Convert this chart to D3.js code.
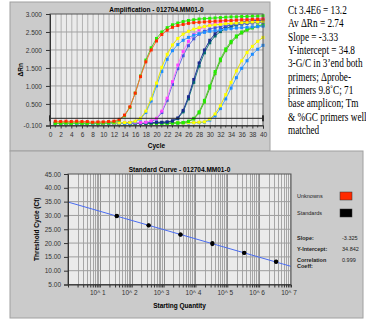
<!DOCTYPE html>
<html>
<head>
<meta charset="utf-8">
<script src="https://cdn.jsdelivr.net/npm/d3@7"></script>
<style>
body { margin: 0; background: #fff; }
svg { display: block; font-family: "Liberation Sans", Arial, sans-serif; }
</style>
</head>
<body>
<svg id="chart" width="366" height="325"></svg>
<script>
// amplification data (delta Rn per cycle)
const cycles = d3.range(1, 41)
const ampYTicks = [3.0, 2.5, 2.0, 1.5, 1.0, 0.5, -0.1]
const ampXTicks = d3.range(0, 41, 2)
const threshold = 0.1

const red1 = [0.02, 0.01, 0.02, 0.01, 0.02, 0.01, 0.01, -0.01, 0.00, 0.00, 0.01, 0.02,
	0.07, 0.19, 0.42, 0.80, 1.26, 1.67, 2.00, 2.25,
	2.43, 2.55, 2.63, 2.68, 2.71, 2.74, 2.76, 2.77, 2.78, 2.79,
	2.80, 2.81, 2.82, 2.82, 2.83, 2.84, 2.84, 2.85, 2.85, 2.86]
const green1 = [-0.04, -0.04, -0.03, -0.04, -0.03, -0.04, -0.04, -0.03, -0.04, -0.03, -0.03, -0.01,
	0.05, 0.17, 0.40, 0.80, 1.28, 1.72, 2.06, 2.32,
	2.50, 2.62, 2.70, 2.75, 2.79, 2.82, 2.84, 2.86, 2.87, 2.88,
	2.89, 2.90, 2.91, 2.92, 2.92, 2.93, 2.93, 2.94, 2.94, 2.95]
const yellow2 = [-0.03, -0.02, -0.03, -0.03, -0.02, -0.03, -0.03, -0.02, -0.03, -0.03, -0.02, -0.03, -0.03, -0.02, -0.02,
	0.02, 0.10, 0.30, 0.64, 1.08,
	1.52, 1.88, 2.14, 2.32, 2.44, 2.52, 2.58, 2.62, 2.65, 2.68,
	2.70, 2.71, 2.73, 2.74, 2.75, 2.76, 2.77, 2.78, 2.78, 2.79]
const blue2 = [-0.05, -0.04, -0.05, -0.04, -0.05, -0.05, -0.04, -0.05, -0.04, -0.05, -0.04, -0.05, -0.04, -0.04, -0.04,
	0.00, 0.08, 0.26, 0.58, 1.00,
	1.40, 1.74, 1.98, 2.15, 2.27, 2.35, 2.41, 2.45, 2.49, 2.52,
	2.54, 2.56, 2.58, 2.59, 2.61, 2.62, 2.63, 2.64, 2.65, 2.66]
const magenta3 = [-0.02, -0.03, -0.02, -0.03, -0.02, -0.02, -0.03, -0.02, -0.03, -0.02, -0.02, -0.03, -0.02, -0.02, -0.03, -0.02, -0.02, -0.01,
	0.03, 0.10,
	0.30, 0.66, 1.12, 1.58, 1.96, 2.24, 2.43, 2.56, 2.64, 2.70,
	2.74, 2.77, 2.79, 2.81, 2.83, 2.84, 2.85, 2.86, 2.87, 2.88]
const purple3 = [-0.04, -0.03, -0.04, -0.03, -0.04, -0.04, -0.03, -0.04, -0.03, -0.04, -0.03, -0.04, -0.03, -0.03, -0.04, -0.03, -0.03, -0.02,
	0.01, 0.08,
	0.26, 0.60, 1.04, 1.48, 1.84, 2.12, 2.31, 2.44, 2.52, 2.58,
	2.62, 2.65, 2.68, 2.70, 2.72, 2.73, 2.74, 2.75, 2.76, 2.77]
const navy4 = [-0.03, -0.02, -0.03, -0.02, -0.03, -0.03, -0.02, -0.03, -0.02, -0.03, -0.02, -0.03, -0.02, -0.03, -0.02, -0.02, -0.03, -0.02, -0.02, -0.01, -0.01, 0.00,
	0.03, 0.11, 0.32, 0.70, 1.18, 1.64, 2.00, 2.27,
	2.45, 2.57, 2.65, 2.70, 2.74, 2.77, 2.79, 2.81, 2.82, 2.83]
const teal4 = [-0.04, -0.04, -0.03, -0.04, -0.04, -0.03, -0.04, -0.04, -0.03, -0.04, -0.04, -0.03, -0.04, -0.03, -0.04, -0.03, -0.03, -0.04, -0.03, -0.02, -0.02, -0.01,
	0.02, 0.09, 0.28, 0.64, 1.10, 1.55, 1.92, 2.20,
	2.39, 2.51, 2.59, 2.65, 2.69, 2.72, 2.74, 2.76, 2.77, 2.78]
const green5 = [-0.05, -0.04, -0.05, -0.05, -0.04, -0.05, -0.05, -0.04, -0.05, -0.05, -0.04, -0.05, -0.05, -0.04, -0.05, -0.05, -0.04, -0.05, -0.04, -0.05, -0.04, -0.04, -0.03, -0.03, -0.02,
	0.02, 0.10, 0.28, 0.60, 1.00,
	1.40, 1.75, 2.03, 2.24, 2.39, 2.50, 2.58, 2.63, 2.67, 2.70]
const lime5 = [-0.04, -0.05, -0.04, -0.04, -0.05, -0.04, -0.04, -0.05, -0.04, -0.04, -0.05, -0.04, -0.04, -0.05, -0.04, -0.04, -0.05, -0.04, -0.04, -0.04, -0.03, -0.04, -0.03, -0.03, -0.02,
	0.01, 0.08, 0.25, 0.55, 0.94,
	1.34, 1.70, 1.98, 2.20, 2.36, 2.47, 2.55, 2.61, 2.65, 2.68]
const yellow6 = [-0.03, -0.03, -0.02, -0.03, -0.03, -0.02, -0.03, -0.03, -0.02, -0.03, -0.03, -0.02, -0.03, -0.03, -0.02, -0.03, -0.03, -0.02, -0.03, -0.03, -0.02, -0.03, -0.03, -0.02, -0.03, -0.02, -0.02, -0.01,
	0.00, 0.08,
	0.22, 0.45, 0.76, 1.10, 1.42, 1.70, 1.93, 2.10, 2.24, 2.35]
const blue6 = [-0.04, -0.03, -0.04, -0.04, -0.03, -0.04, -0.04, -0.03, -0.04, -0.04, -0.03, -0.04, -0.04, -0.03, -0.04, -0.04, -0.03, -0.04, -0.04, -0.03, -0.04, -0.03, -0.04, -0.03, -0.03, -0.03, -0.02, -0.02, -0.01,
	0.05,
	0.17, 0.37, 0.64, 0.94, 1.23, 1.49, 1.70, 1.88, 2.02, 2.13]

// standard curve data
const quantities = [34, 340, 3400, 34000, 340000, 3400000]
const ctRep1 = [29.75, 26.35, 23.05, 19.65, 16.40, 13.20]
const ctRep2 = [29.85, 26.45, 23.10, 20.00, 16.50, 13.25]
const stdYTicks = [45, 40, 35, 30, 25, 20, 15, 10, 5]
const stdXTicks = [10, 100, 1000, 10000, 100000, 1000000, 10000000]
const slope = -3.325
const intercept = 34.842
const corr = 0.999

const notes = ['Ct 3.4E6 = 13.2', 'Av \u0394Rn = 2.74', 'Slope = -3.33', 'Y-intercept = 34.8',
	'3-G/C in 3\u2019end both', 'primers; \u0394probe-', 'primers 9.8\u02daC; 71',
	'base amplicon; Tm', '& %GC primers well', 'matched']

const ampSeries = [
	{ fill: '#1e8cff', line: '#4aa6ff', values: blue6 },
	{ fill: '#ffff00', line: '#e6e600', values: yellow6 },
	{ fill: '#33dd00', line: '#44aa22', values: lime5 },
	{ fill: '#22ee00', line: '#55cc33', values: green5 },
	{ fill: '#006a6a', line: '#1a7a7a', values: teal4 },
	{ fill: '#1a2a8c', line: '#26349a', values: navy4 },
	{ fill: '#4455dd', line: '#6670e0', values: purple3 },
	{ fill: '#ff44ff', line: '#ff77ff', values: magenta3 },
	{ fill: '#1e8cff', line: '#4aa6ff', values: blue2 },
	{ fill: '#ffff00', line: '#e6e600', values: yellow2 },
	{ fill: '#22ee00', line: '#55cc33', values: green1 },
	{ fill: '#ff2a00', line: '#ff6a33', values: red1 }
]

const svg = d3.select('#chart')
const panelFill = '#cbcbcb'
const plotFill = '#ebebeb'
const gridColor = '#b2b2b2'

// ---------- Amplification panel ----------
svg.append('rect')
	.attr('x', 10).attr('y', 2).attr('width', 260).attr('height', 149)
	.attr('fill', panelFill).attr('stroke', '#a0a0a0')

const xAmp = d3.scaleLinear().domain([0, 40]).range([50, 263])
const yAmp = d3.scaleLinear().domain([-0.1, 3.0]).range([125.5, 14])

const amp = svg.append('g')
amp.append('rect')
	.attr('x', xAmp(0)).attr('y', yAmp(3)).attr('width', xAmp(40) - xAmp(0)).attr('height', yAmp(-0.1) - yAmp(3))
	.attr('fill', plotFill)

// grid
amp.append('g').selectAll('line')
	.data(d3.range(1, 40))
	.enter().append('line')
	.attr('x1', d => xAmp(d) + 0.5).attr('x2', d => xAmp(d) + 0.5)
	.attr('y1', yAmp(3)).attr('y2', yAmp(-0.1))
	.attr('stroke', gridColor).attr('stroke-width', 1)
amp.append('g').selectAll('line')
	.data([0.5, 1.0, 1.5, 2.0, 2.5])
	.enter().append('line')
	.attr('x1', xAmp(0)).attr('x2', xAmp(40))
	.attr('y1', d => yAmp(d)).attr('y2', d => yAmp(d))
	.attr('stroke', '#a2a2a2').attr('stroke-width', 1)

// curves
const ampLine = d3.line()
	.x((d, i) => xAmp(cycles[i]))
	.y(d => yAmp(d))

const curves = amp.append('g').selectAll('g')
	.data(ampSeries)
	.enter().append('g')
curves.append('path')
	.attr('d', d => ampLine(d.values))
	.attr('fill', 'none').attr('stroke', d => d.line).attr('stroke-width', 1)
curves.selectAll('rect')
	.data(d => d.values.map((v, i) => ({ c: cycles[i], v: v, fill: d.fill })))
	.enter().append('rect')
	.attr('x', d => xAmp(d.c) - 1.5).attr('y', d => yAmp(d.v) - 1.5)
	.attr('width', 3).attr('height', 3)
	.attr('fill', d => d.fill)

// threshold
amp.append('line')
	.attr('x1', xAmp(0)).attr('x2', xAmp(40))
	.attr('y1', yAmp(threshold)).attr('y2', yAmp(threshold))
	.attr('stroke', '#222').attr('stroke-width', 1)
amp.append('g').selectAll('rect')
	.data([0, 40])
	.enter().append('rect')
	.attr('x', d => xAmp(d) - 1).attr('y', yAmp(threshold) - 3)
	.attr('width', 2).attr('height', 6).attr('fill', '#000')

amp.append('rect')
	.attr('x', xAmp(0)).attr('y', yAmp(3)).attr('width', xAmp(40) - xAmp(0)).attr('height', yAmp(-0.1) - yAmp(3))
	.attr('fill', 'none').attr('stroke', '#555')

// axes
const ampYAxis = amp.append('g')
	.attr('transform', `translate(${xAmp(0)},0)`)
	.call(d3.axisLeft(yAmp).tickValues(ampYTicks).tickSize(4).tickFormat(d => d.toFixed(3)))
const ampXAxis = amp.append('g')
	.attr('transform', `translate(0,${yAmp(-0.1)})`)
	.call(d3.axisBottom(xAmp).tickValues(ampXTicks).tickSize(3).tickFormat(d3.format('d')))
amp.append('g').selectAll('line')
	.data(d3.range(1, 40, 2))
	.enter().append('line')
	.attr('x1', d => xAmp(d)).attr('x2', d => xAmp(d))
	.attr('y1', yAmp(-0.1)).attr('y2', yAmp(-0.1) + 2)
	.attr('stroke', '#333')

amp.append('text')
	.attr('x', (xAmp(0) + xAmp(40)) / 2).attr('y', 12)
	.attr('text-anchor', 'middle').attr('font-size', 6.5).attr('font-weight', 'bold')
	.text('Amplification - 012704.MM01-0')
amp.append('text')
	.attr('x', (xAmp(0) + xAmp(40)) / 2).attr('y', 148)
	.attr('text-anchor', 'middle').attr('font-size', 6.5).attr('font-weight', 'bold')
	.text('Cycle')
amp.append('text')
	.attr('transform', `translate(23,${(yAmp(3) + yAmp(-0.1)) / 2}) rotate(-90)`)
	.attr('text-anchor', 'middle').attr('font-size', 6.5).attr('font-weight', 'bold')
	.text('\u0394Rn')

// ---------- Notes ----------
svg.append('g')
	.attr('transform', 'translate(288,0) scale(0.77,1)')
	.selectAll('text')
	.data(notes)
	.enter().append('text')
	.attr('x', 0).attr('y', (d, i) => 14 + i * 13.35)
	.attr('font-family', '"Liberation Serif", "Times New Roman", serif')
	.attr('font-size', 12)
	.attr('fill', '#000')
	.text(d => d)

// ---------- Standard curve panel ----------
svg.append('rect')
	.attr('x', 10).attr('y', 151).attr('width', 353).attr('height', 167)
	.attr('fill', panelFill).attr('stroke', '#a0a0a0')

const xStd = d3.scaleLog().domain([1, 1e7]).range([68, 291])
const yStd = d3.scaleLinear().domain([5, 45]).range([284.5, 174])

const std = svg.append('g')
std.append('rect')
	.attr('x', xStd(1)).attr('y', yStd(45)).attr('width', xStd(1e7) - xStd(1)).attr('height', yStd(5) - yStd(45))
	.attr('fill', plotFill)

std.append('g').selectAll('line')
	.data(xStd.ticks().filter(d => d > 1 && d < 1e7))
	.enter().append('line')
	.attr('x1', d => Math.round(xStd(d)) + 0.5).attr('x2', d => Math.round(xStd(d)) + 0.5)
	.attr('y1', yStd(45)).attr('y2', yStd(5))
	.attr('stroke', d => stdXTicks.includes(d) ? '#8e8e8e' : '#a6a6a6')
std.append('g').selectAll('line')
	.data(stdYTicks.filter(d => d > 5 && d < 45))
	.enter().append('line')
	.attr('x1', xStd(1)).attr('x2', xStd(1e7))
	.attr('y1', d => yStd(d)).attr('y2', d => yStd(d))
	.attr('stroke', '#9e9e9e')

// regression line
std.append('line')
	.attr('x1', xStd(1)).attr('x2', xStd(1e7))
	.attr('y1', yStd(intercept)).attr('y2', yStd(intercept + slope * 7))
	.attr('stroke', '#4a6cf0').attr('stroke-width', 1)

// standards
std.append('g').selectAll('circle')
	.data(quantities.flatMap((q, i) => [{ q: q, ct: ctRep1[i] }, { q: q, ct: ctRep2[i] }]))
	.enter().append('circle')
	.attr('cx', d => xStd(d.q)).attr('cy', d => yStd(d.ct))
	.attr('r', 2.1).attr('fill', '#000')

std.append('rect')
	.attr('x', xStd(1)).attr('y', yStd(45)).attr('width', xStd(1e7) - xStd(1)).attr('height', yStd(5) - yStd(45))
	.attr('fill', 'none').attr('stroke', '#555')

std.append('g')
	.attr('transform', `translate(${xStd(1)},0)`)
	.call(d3.axisLeft(yStd).tickValues(stdYTicks).tickSize(4).tickFormat(d => d.toFixed(2)))
std.append('g')
	.attr('transform', `translate(0,${yStd(5)})`)
	.call(d3.axisBottom(xStd).tickValues(xStd.ticks().filter(d => d > 1 && d < 1e7)).tickSize(3).tickFormat(''))
std.append('g').selectAll('text')
	.data(stdXTicks)
	.enter().append('text')
	.attr('x', d => xStd(d) - 2).attr('y', yStd(5) + 10)
	.attr('text-anchor', 'middle').attr('font-size', 6.5).attr('fill', '#333')
	.text(d => '10^ ' + Math.round(Math.log10(d)))

std.append('text')
	.attr('x', (xStd(1) + xStd(1e7)) / 2).attr('y', 172)
	.attr('text-anchor', 'middle').attr('font-size', 6.5).attr('font-weight', 'bold')
	.text('Standard Curve - 012704.MM01-0')
std.append('text')
	.attr('x', (xStd(1) + xStd(1e7)) / 2).attr('y', 308)
	.attr('text-anchor', 'middle').attr('font-size', 6.5).attr('font-weight', 'bold')
	.text('Starting Quantity')
std.append('text')
	.attr('transform', `translate(39,${(yStd(45) + yStd(5)) / 2}) rotate(-90)`)
	.attr('text-anchor', 'middle').attr('font-size', 6.5).attr('font-weight', 'bold')
	.text('Threshold Cycle (Ct)')

// legend
const legend = [{ label: 'Unknowns', color: '#ff2a00', y: 196 }, { label: 'Standards', color: '#000', y: 213 }]
const lg = std.append('g').selectAll('g').data(legend).enter().append('g')
lg.append('text')
	.attr('x', 297).attr('y', d => d.y + 2).attr('font-size', 5.5).attr('fill', '#222')
	.text(d => d.label)
lg.append('rect')
	.attr('x', 340).attr('y', d => d.y - 4).attr('width', 12).attr('height', 8)
	.attr('fill', d => d.color).attr('stroke', '#333').attr('stroke-width', 0.5)

const stats = [
	{ label: 'Slope:', value: slope.toFixed(3), y: 240 },
	{ label: 'Y-Intercept:', value: intercept.toFixed(3), y: 251 },
	{ label: 'Correlation', value: corr.toFixed(3), y: 262 }
]
const st = std.append('g').selectAll('g').data(stats).enter().append('g')
st.append('text')
	.attr('x', 297).attr('y', d => d.y).attr('font-size', 5.5).attr('font-weight', 'bold').attr('fill', '#222')
	.text(d => d.label)
st.append('text')
	.attr('x', 342).attr('y', d => d.y).attr('font-size', 5.5).attr('fill', '#222')
	.text(d => d.value)
std.append('text')
	.attr('x', 297).attr('y', 268).attr('font-size', 5.5).attr('font-weight', 'bold').attr('fill', '#222')
	.text('Coeff:')

// axis styling
svg.selectAll('.tick text').attr('font-size', 6.5).attr('fill', '#333').attr('font-family', '"Liberation Sans", Arial, sans-serif')
svg.selectAll('.tick line').attr('stroke', '#333')
svg.selectAll('.domain').attr('stroke', '#333')
ampYAxis.selectAll('.tick text').attr('dx', -1)
ampXAxis.selectAll('.tick text').attr('dy', '0.9em')
</script>
</body>
</html>
